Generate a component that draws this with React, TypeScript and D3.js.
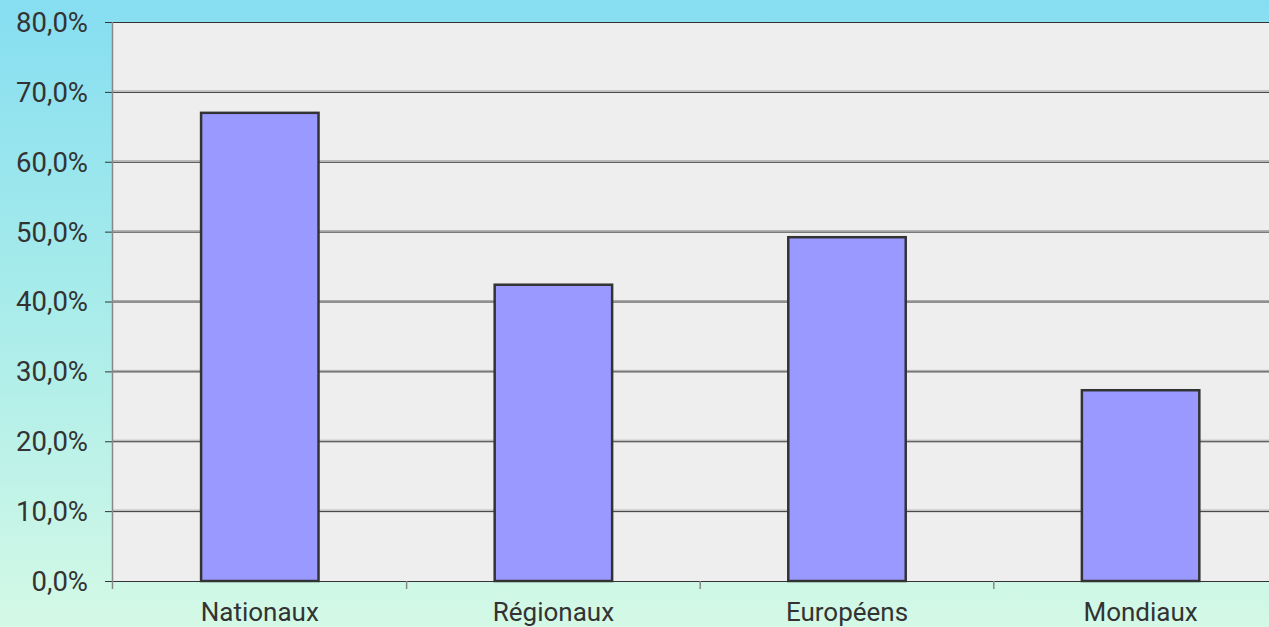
import React from 'react';
import * as d3 from 'd3';

const categories = ['Nationaux', 'Régionaux', 'Européens', 'Mondiaux'];
const values = [67.0, 42.4, 49.2, 27.3];
const yTicks = [0, 10, 20, 30, 40, 50, 60, 70, 80];

const W = 1269;
const H = 627;
const left = 113;
const top = 22;
const bottom = 581;
const right = left + 4 * 293.6;

export default function App() {
    const x = d3.scaleBand<string>()
        .domain(categories)
        .range([left, right])
        .paddingInner(0.6)
        .paddingOuter(0.3);
    const y = d3.scaleLinear().domain([0, 80]).range([bottom, top]);
    const step = x.step();
    const fmt = (v: number) => v.toFixed(1).replace('.', ',') + '%';

    return (
        <div style={{ position: 'fixed', left: 0, top: 0, width: W, height: H, overflow: 'hidden' }}>
            <svg width={W} height={H} style={{ display: 'block', fontFamily: 'Roboto, sans-serif' }}>
                <defs>
                    <linearGradient id="bg" x1="0" y1="0" x2="0" y2="1">
                        <stop offset="0" stopColor="#86def1" />
                        <stop offset="0.5" stopColor="#a9ecea" />
                        <stop offset="1" stopColor="#d4f9e6" />
                    </linearGradient>
                </defs>
                <rect x={0} y={0} width={W} height={H} fill="url(#bg)" />
                <rect x={left} y={top} width={right - left} height={bottom - top} fill="#eeeeee" />

                {yTicks.map(t => (
                    <g key={t}>
                        {t > 0 && t < 80 && (
                            <line x1={left} x2={right} y1={y(t) - 1} y2={y(t) - 1} stroke="#aaaaaa" strokeWidth={1} />
                        )}
                        <line x1={left - 8} x2={right} y1={y(t) + 0.5} y2={y(t) + 0.5} stroke="#333" strokeWidth={1} />
                        <text x={88} y={y(t)} dy="0.36em" textAnchor="end" fontSize={27.5} fill="#333">{fmt(t)}</text>
                    </g>
                ))}

                <line x1={left - 0.5} x2={left - 0.5} y1={top} y2={bottom + 8} stroke="#888" strokeWidth={1.5} />
                {categories.map((c, i) => (
                    <line key={'t' + c} x1={left + step * (i + 1)} x2={left + step * (i + 1)} y1={bottom} y2={bottom + 8} stroke="#888" strokeWidth={1.5} />
                ))}

                {categories.map((c, i) => (
                    <rect key={c}
                        x={x(c)}
                        y={y(values[i])}
                        width={x.bandwidth()}
                        height={y(0) - y(values[i])}
                        fill="#9999ff"
                        stroke="#333"
                        strokeWidth={2.5} />
                ))}

                {categories.map(c => (
                    <text key={'l' + c} x={(x(c) as number) + x.bandwidth() / 2} y={621} textAnchor="middle" fontSize={26} fill="#333">{c}</text>
                ))}
            </svg>
        </div>
    );
}
